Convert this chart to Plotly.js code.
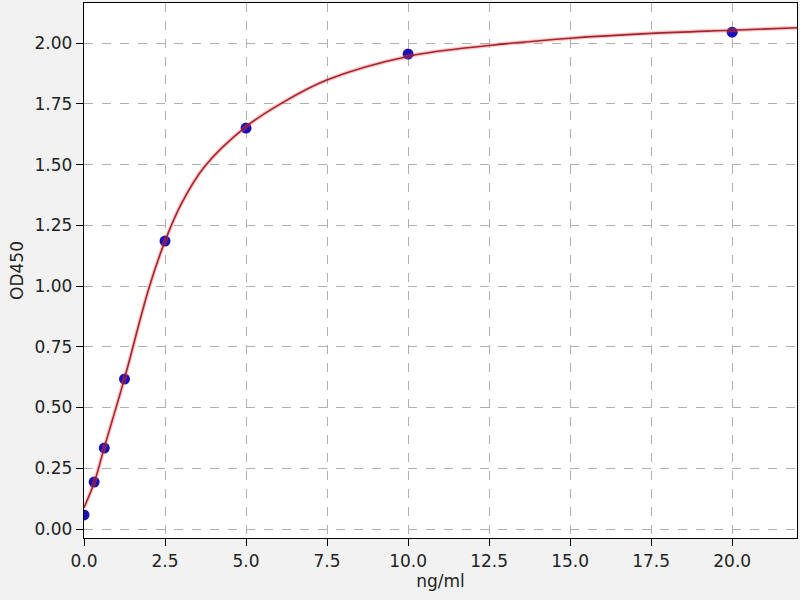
<!DOCTYPE html>
<html>
<head>
<meta charset="utf-8">
<script src="https://cdn.plot.ly/plotly-3.0.1.min.js"></script>
<style>
  html, body { margin: 0; padding: 0; background: #f2f2f2; }
  #chart { width: 800px; height: 600px; }
</style>
</head>
<body>
<div id="chart"></div>
<script>
// Standard points (concentration vs optical density)
const concentration = [0, 0.3125, 0.625, 1.25, 2.5, 5, 10, 20];
const od450 = [0.058, 0.193, 0.333, 0.617, 1.185, 1.650, 1.955, 2.045];

// Fitted curve
const curveX = [0, 0.3125, 0.625, 1.25, 2.0, 2.5, 3.01, 3.71, 5.0, 6.05, 7.49, 10.06, 12.5, 15.0, 17.5, 20.0, 22.0];
const curveY = [0.088, 0.19, 0.335, 0.62, 0.99, 1.185, 1.34, 1.49, 1.656, 1.749, 1.848, 1.947, 1.99, 2.02, 2.04, 2.053, 2.063];

const tickFont = { family: "DejaVu Sans, sans-serif", size: 17, color: "#222" };

const traces = [
    {
        x: concentration,
        y: od450,
        mode: "markers",
        type: "scatter",
        marker: { color: "#1c0fb4", size: 11 },
        hoverinfo: "skip"
    },
    {
        // soft halo round the fitted line
        x: curveX,
        y: curveY,
        mode: "lines",
        type: "scatter",
        line: { color: "rgba(255,90,90,0.35)", width: 4, shape: "spline", smoothing: 1 },
        hoverinfo: "skip"
    },
    {
        x: curveX,
        y: curveY,
        mode: "lines",
        type: "scatter",
        line: { color: "rgba(150,20,30,0.9)", width: 1.6, shape: "spline", smoothing: 1 },
        hoverinfo: "skip"
    }
];

const layout = {
    width: 800,
    height: 600,
    margin: { l: 84, r: 3, t: 3, b: 62 },
    paper_bgcolor: "#f2f2f2",
    plot_bgcolor: "#ffffff",
    showlegend: false,
    font: tickFont,
    xaxis: {
        range: [0, 22],
        tickvals: [0, 2.5, 5, 7.5, 10, 12.5, 15, 17.5, 20],
        tickformat: ".1f",
        ticks: "outside",
        ticklen: 7,
        tickcolor: "#000",
        tickfont: tickFont,
        showline: true,
        mirror: true,
        linecolor: "#000",
        linewidth: 1.2,
        zeroline: false,
        showgrid: true,
        gridcolor: "#b0b0b0",
        griddash: "dash",
        gridwidth: 1,
        title: { text: "ng/ml", font: tickFont, standoff: 4 }
    },
    yaxis: {
        range: [-0.037, 2.165],
        tickvals: [0, 0.25, 0.5, 0.75, 1.0, 1.25, 1.5, 1.75, 2.0],
        tickformat: ".2f",
        ticks: "outside",
        ticklen: 7,
        tickcolor: "#000",
        tickfont: tickFont,
        showline: true,
        mirror: true,
        linecolor: "#000",
        linewidth: 1.2,
        zeroline: false,
        showgrid: true,
        gridcolor: "#b0b0b0",
        griddash: "dash",
        gridwidth: 1,
        title: { text: "OD450", font: tickFont, standoff: 6 }
    }
};

Plotly.newPlot("chart", traces, layout, { displayModeBar: false, staticPlot: true });
</script>
</body>
</html>
